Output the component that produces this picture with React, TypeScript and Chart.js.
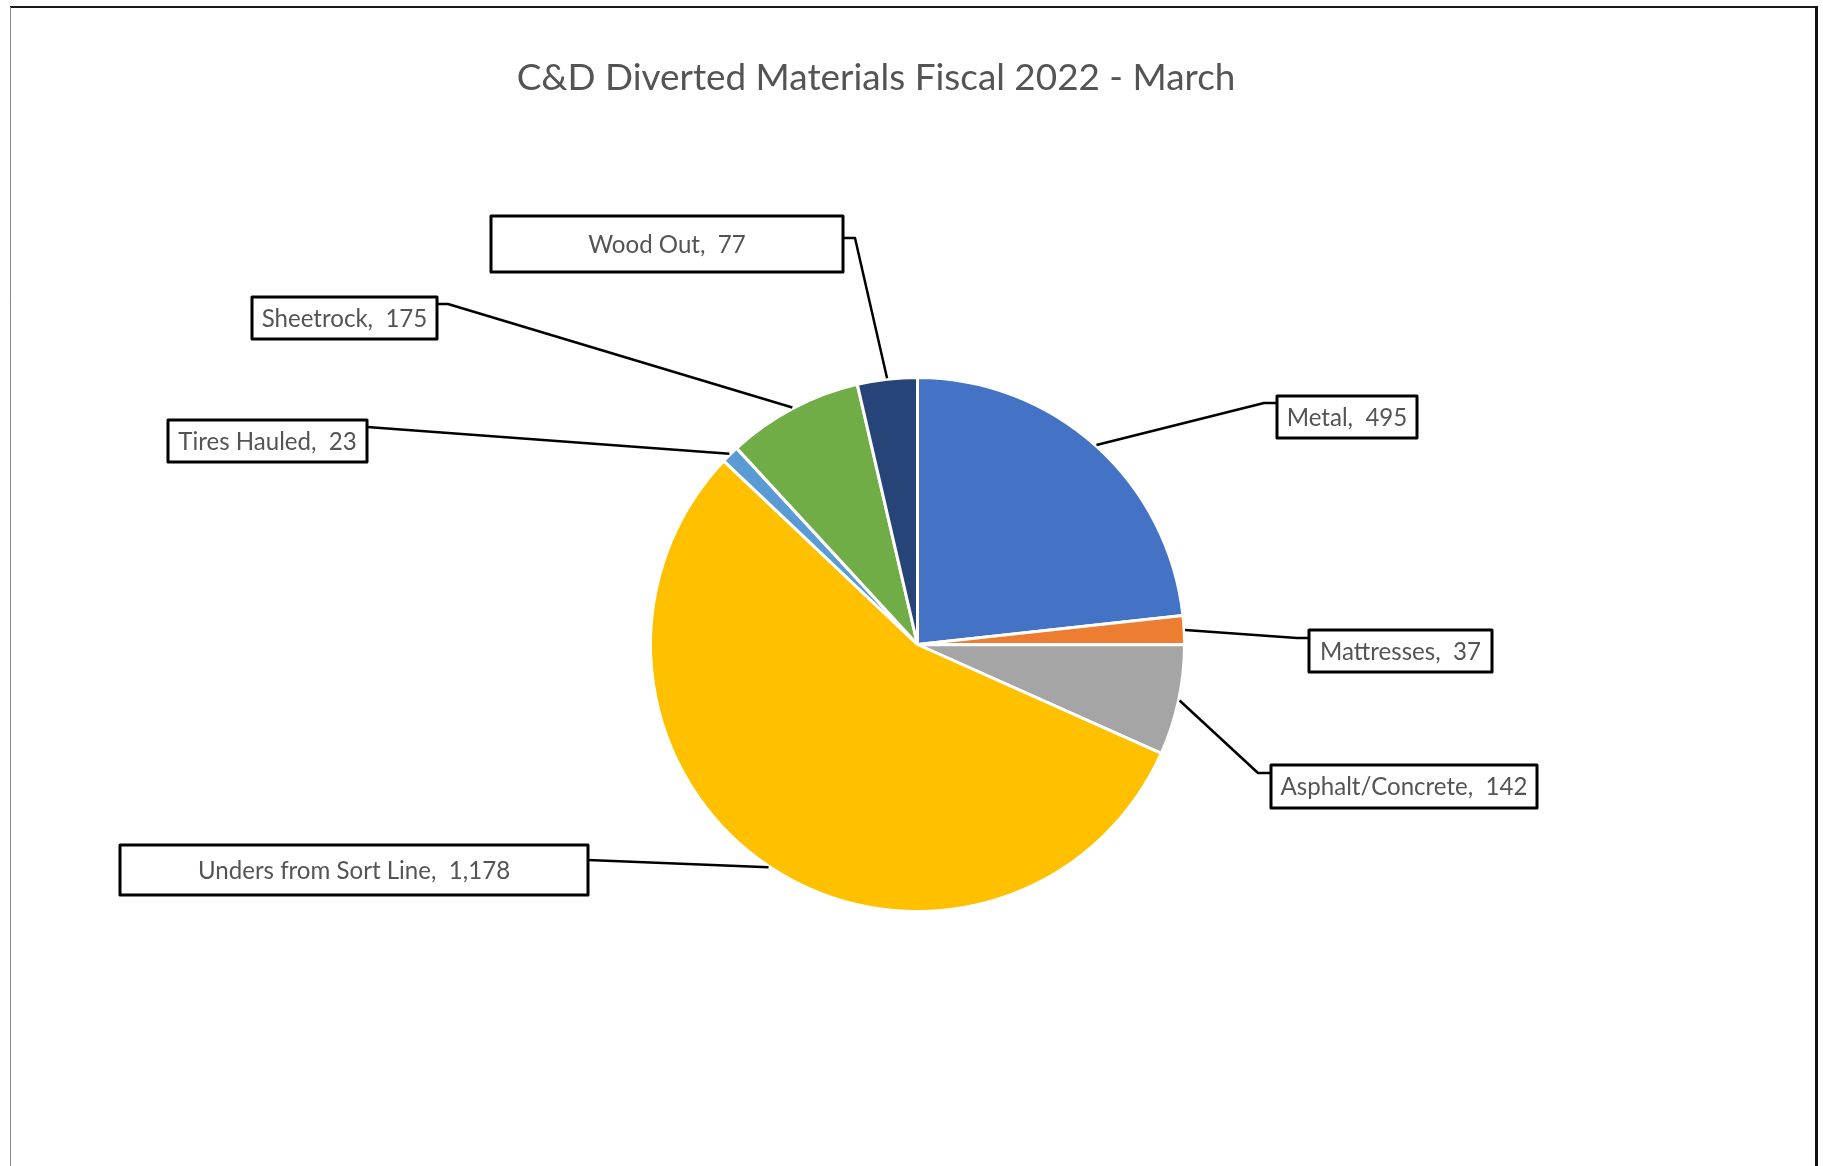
import React, { useEffect, useRef } from "react";
import { Chart, registerables } from "chart.js";

Chart.register(...registerables);

const titleText = "C&D Diverted Materials Fiscal 2022 - March";
const categories = [
  "Metal",
  "Mattresses",
  "Asphalt/Concrete",
  "Unders from Sort Line",
  "Tires Hauled",
  "Sheetrock",
  "Wood Out",
];
const values = [495, 37, 142, 1178, 23, 175, 77];
const colors = ["#4472C4", "#ED7D31", "#A5A5A5", "#FFC000", "#5B9BD5", "#70AD47", "#264478"];

// Layout of the data-label boxes (pixels), one per category, in the same order.
const labelBoxes = [
  { x: 1277, y: 396, w: 140, h: 42, side: "left", elbow: 1264, ay: 403 },
  { x: 1309, y: 630, w: 183, h: 42, side: "left", elbow: 1297, ay: 638 },
  { x: 1271, y: 765, w: 266, h: 43, side: "left", elbow: 1258, ay: 773 },
  { x: 120, y: 845, w: 468, h: 50, side: "right", elbow: null, ay: 860 },
  { x: 168, y: 420, w: 199, h: 42, side: "right", elbow: null, ay: 427 },
  { x: 252, y: 297, w: 185, h: 42, side: "right", elbow: 448, ay: 304 },
  { x: 491, y: 216, w: 352, h: 56, side: "right", elbow: 855, ay: 238 },
];

const FONT = "Lato, 'Open Sans', 'DejaVu Sans', sans-serif";
const TEXT_COLOR = "#545454";

const fmt = (v: number) => v.toLocaleString("en-US");
const labelText = (i: number) => `${categories[i]},  ${fmt(values[i])}`;

const annotPlugin = {
  id: "annot",
  afterDraw(chart: any) {
    const ctx: CanvasRenderingContext2D = chart.ctx;
    ctx.save();

    // frame
    ctx.strokeStyle = "#1a1a1a";
    ctx.lineWidth = 2;
    ctx.beginPath();
    ctx.moveTo(10, 7);
    ctx.lineTo(1818, 7);
    ctx.stroke();
    ctx.strokeStyle = "#8a8a8a";
    ctx.lineWidth = 1;
    ctx.beginPath();
    ctx.moveTo(10.5, 7);
    ctx.lineTo(10.5, 1166);
    ctx.stroke();
    ctx.strokeStyle = "#111";
    ctx.lineWidth = 3;
    ctx.beginPath();
    ctx.moveTo(1816.5, 6);
    ctx.lineTo(1816.5, 1166);
    ctx.stroke();

    // title
    ctx.font = `100px ${FONT}`;
    const tw = ctx.measureText(titleText).width;
    const tSize = (100 * 719) / tw;
    ctx.font = `${tSize}px ${FONT}`;
    ctx.fillStyle = TEXT_COLOR;
    ctx.textAlign = "center";
    ctx.textBaseline = "alphabetic";
    ctx.fillText(titleText, 876, 90);

    // label font size fitted from the longest label
    ctx.font = `100px ${FONT}`;
    const lw = ctx.measureText(labelText(2)).width;
    const lSize = (100 * 247) / lw;

    const meta = chart.getDatasetMeta(0);
    meta.data.forEach((arc: any, i: number) => {
      const b = labelBoxes[i];
      const mid = (arc.startAngle + arc.endAngle) / 2;
      const r = arc.outerRadius + 1;
      const px = arc.x + Math.cos(mid) * r;
      const py = arc.y + Math.sin(mid) * r;
      const bx = b.side === "left" ? b.x : b.x + b.w;

      // leader line
      ctx.strokeStyle = "#000";
      ctx.lineWidth = 2.5;
      ctx.lineJoin = "round";
      ctx.beginPath();
      ctx.moveTo(px, py);
      if (b.elbow != null) ctx.lineTo(b.elbow, b.ay);
      ctx.lineTo(bx, b.ay);
      ctx.stroke();

      // box
      ctx.fillStyle = "#fff";
      ctx.fillRect(b.x, b.y, b.w, b.h);
      ctx.strokeStyle = "#000";
      ctx.lineWidth = 3;
      ctx.strokeRect(b.x, b.y, b.w, b.h);

      // text
      ctx.font = `${lSize}px ${FONT}`;
      ctx.fillStyle = TEXT_COLOR;
      ctx.textAlign = "center";
      ctx.textBaseline = "middle";
      ctx.fillText(labelText(i), b.x + b.w / 2, b.y + b.h / 2 + 1);
    });

    ctx.restore();
  },
};

export default function App() {
  const ref = useRef<HTMLCanvasElement | null>(null);

  useEffect(() => {
    if (!ref.current) return;
    const chart = new Chart(ref.current, {
      type: "pie",
      data: {
        labels: categories,
        datasets: [
          {
            data: values,
            backgroundColor: colors,
            borderColor: "#ffffff",
            borderWidth: 3,
          },
        ],
      },
      options: {
        responsive: false,
        animation: false,
        devicePixelRatio: 1,
        layout: { padding: { left: 649, right: 637, top: 376, bottom: 253 } },
        plugins: {
          legend: { display: false },
          tooltip: { enabled: false },
          title: { display: false },
        },
      },
      plugins: [annotPlugin],
    });
    return () => chart.destroy();
  }, []);

  return (
    <div style={{ position: "fixed", left: 0, top: 0, width: 1823, height: 1166, background: "#fff" }}>
      <canvas ref={ref} width={1823} height={1166} style={{ display: "block" }} />
    </div>
  );
}
